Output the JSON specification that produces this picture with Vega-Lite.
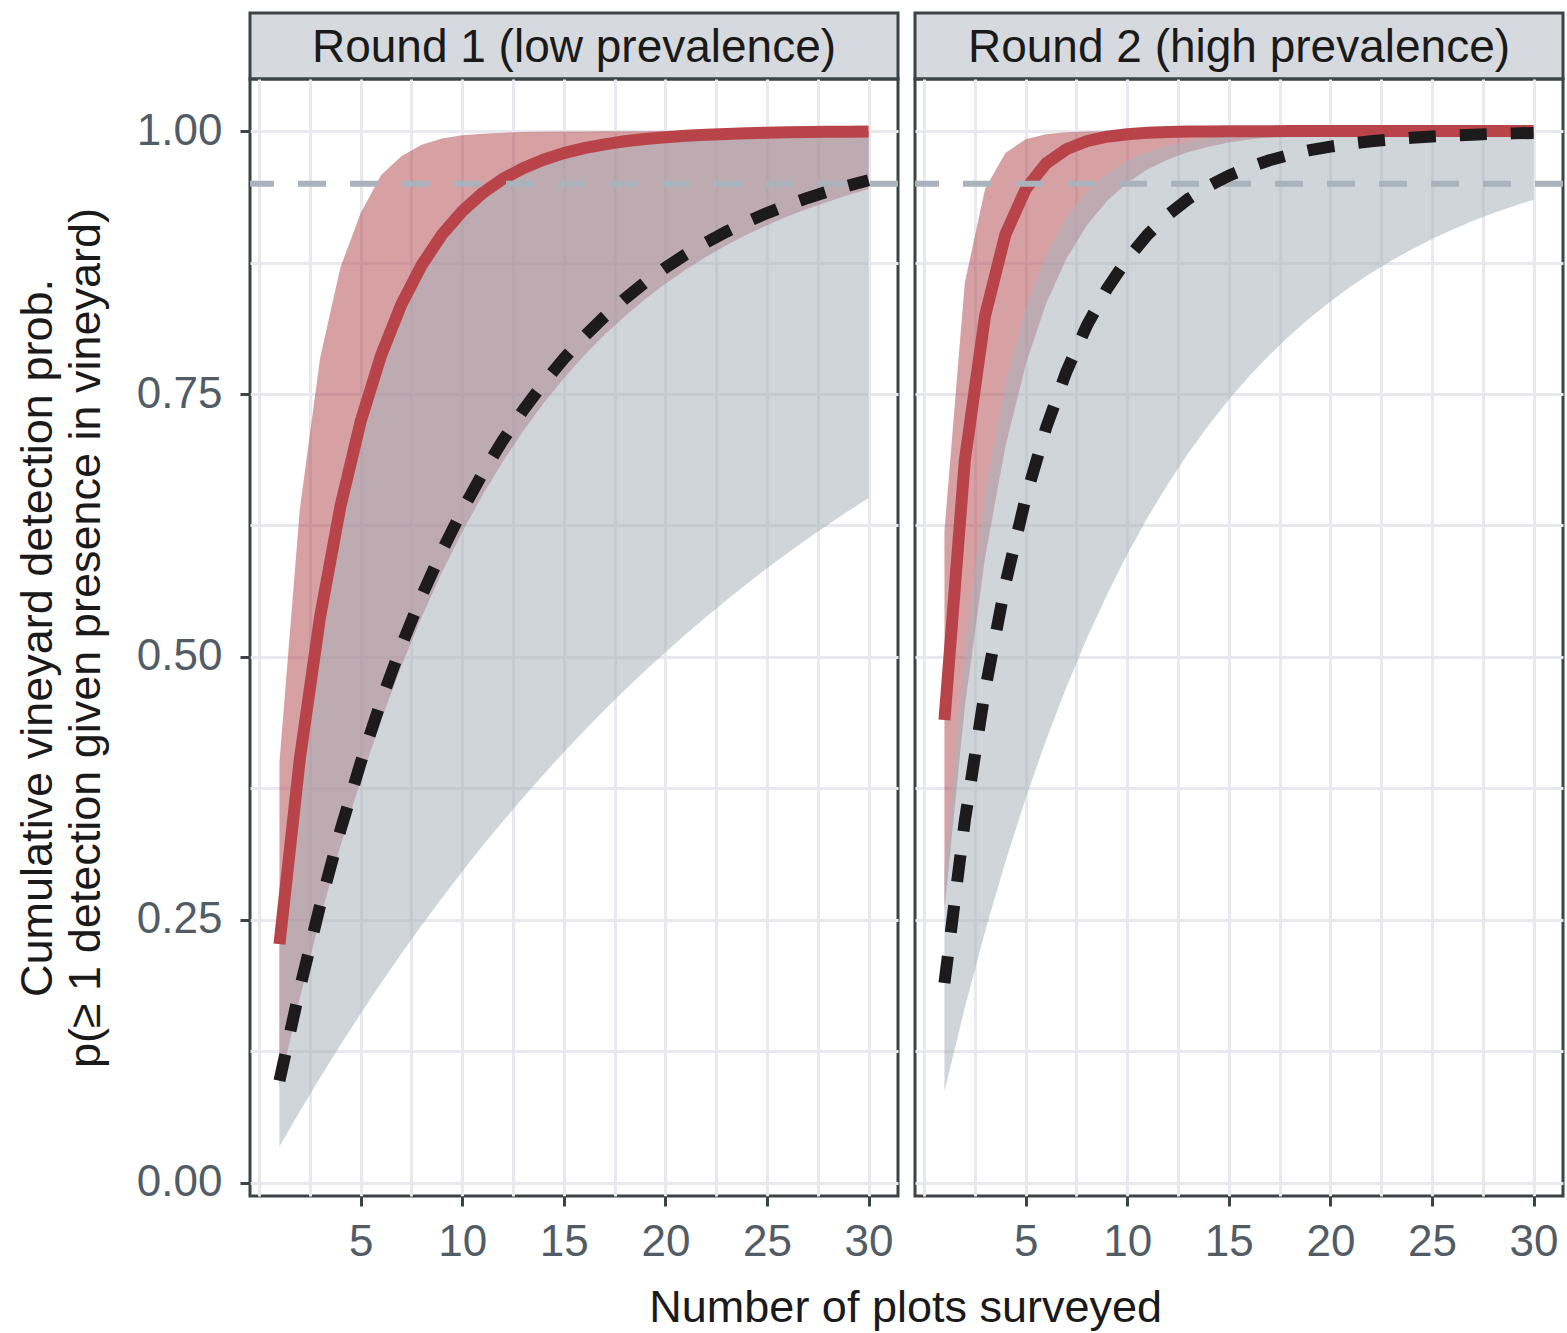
{
  "$schema": "https://vega.github.io/schema/vega-lite/v6.json",
  "padding": {"left": 13, "top": 11, "right": 0, "bottom": 0},
  "background": "white",
  "config": {
    "font": "Liberation Sans",
    "view": {"stroke": "#3b4345", "strokeWidth": 3},
    "axis": {
      "domain": false,
      "gridColor": "#e8e8ee",
      "gridWidth": 3,
      "tickColor": "#3b4345",
      "tickWidth": 3,
      "tickSize": 10,
      "labelFont": "Liberation Sans",
      "labelFontSize": 44,
      "labelColor": "#525c66",
      "labelOverlap": false,
      "labelFlush": false,
      "titleFont": "Liberation Sans",
      "titleFontSize": 45,
      "titleFontWeight": "normal",
      "titleColor": "#1a1a1a",
      "titleLineHeight": 48
    },
    "title": {"font": "Liberation Sans", "fontSize": 45, "fontWeight": "normal", "color": "#1a1a1a"}
  },
  "title": {"text": "Number of plots surveyed", "orient": "bottom", "anchor": "middle", "baseline": "top", "offset": 20, "dx": 115},
  "datasets": {
    "round1": [
      {"n": 1, "red_mean": 0.227, "red_lo": 0.092, "red_hi": 0.4, "grey_mean": 0.097, "grey_lo": 0.0345, "grey_hi": 0.227},
      {"n": 2, "red_mean": 0.4025, "red_lo": 0.1755, "red_hi": 0.64, "grey_mean": 0.1846, "grey_lo": 0.0678, "grey_hi": 0.4025},
      {"n": 3, "red_mean": 0.5381, "red_lo": 0.2514, "red_hi": 0.784, "grey_mean": 0.2637, "grey_lo": 0.1, "grey_hi": 0.5381},
      {"n": 4, "red_mean": 0.643, "red_lo": 0.3203, "red_hi": 0.8704, "grey_mean": 0.3351, "grey_lo": 0.131, "grey_hi": 0.643},
      {"n": 5, "red_mean": 0.724, "red_lo": 0.3828, "red_hi": 0.9222, "grey_mean": 0.3996, "grey_lo": 0.161, "grey_hi": 0.724},
      {"n": 6, "red_mean": 0.7867, "red_lo": 0.4396, "red_hi": 0.958, "grey_mean": 0.4578, "grey_lo": 0.1899, "grey_hi": 0.7867},
      {"n": 7, "red_mean": 0.8351, "red_lo": 0.4911, "red_hi": 0.976, "grey_mean": 0.5104, "grey_lo": 0.2179, "grey_hi": 0.8351},
      {"n": 8, "red_mean": 0.8725, "red_lo": 0.538, "red_hi": 0.987, "grey_mean": 0.5579, "grey_lo": 0.2449, "grey_hi": 0.8725},
      {"n": 9, "red_mean": 0.9015, "red_lo": 0.5805, "red_hi": 0.993, "grey_mean": 0.6008, "grey_lo": 0.2709, "grey_hi": 0.9015},
      {"n": 10, "red_mean": 0.9238, "red_lo": 0.6191, "red_hi": 0.996, "grey_mean": 0.6395, "grey_lo": 0.2961, "grey_hi": 0.9238},
      {"n": 11, "red_mean": 0.9411, "red_lo": 0.6541, "red_hi": 0.9975, "grey_mean": 0.6745, "grey_lo": 0.3204, "grey_hi": 0.9411},
      {"n": 12, "red_mean": 0.9545, "red_lo": 0.6859, "red_hi": 0.9984, "grey_mean": 0.7061, "grey_lo": 0.3438, "grey_hi": 0.9545},
      {"n": 13, "red_mean": 0.9648, "red_lo": 0.7148, "red_hi": 0.999, "grey_mean": 0.7346, "grey_lo": 0.3664, "grey_hi": 0.9648},
      {"n": 14, "red_mean": 0.9728, "red_lo": 0.7411, "red_hi": 0.9993, "grey_mean": 0.7603, "grey_lo": 0.3883, "grey_hi": 0.9728},
      {"n": 15, "red_mean": 0.979, "red_lo": 0.7649, "red_hi": 0.9995, "grey_mean": 0.7836, "grey_lo": 0.4094, "grey_hi": 0.979},
      {"n": 16, "red_mean": 0.9837, "red_lo": 0.7865, "red_hi": 0.9997, "grey_mean": 0.8046, "grey_lo": 0.4298, "grey_hi": 0.9837},
      {"n": 17, "red_mean": 0.9874, "red_lo": 0.8062, "red_hi": 0.9998, "grey_mean": 0.8235, "grey_lo": 0.4495, "grey_hi": 0.9874},
      {"n": 18, "red_mean": 0.9903, "red_lo": 0.824, "red_hi": 0.9999, "grey_mean": 0.8406, "grey_lo": 0.4685, "grey_hi": 0.9903},
      {"n": 19, "red_mean": 0.9925, "red_lo": 0.8402, "red_hi": 0.9999, "grey_mean": 0.8561, "grey_lo": 0.4868, "grey_hi": 0.9925},
      {"n": 20, "red_mean": 0.9942, "red_lo": 0.8549, "red_hi": 1.0, "grey_mean": 0.8701, "grey_lo": 0.5045, "grey_hi": 0.9942},
      {"n": 21, "red_mean": 0.9955, "red_lo": 0.8682, "red_hi": 1.0, "grey_mean": 0.8827, "grey_lo": 0.5216, "grey_hi": 0.9955},
      {"n": 22, "red_mean": 0.9965, "red_lo": 0.8804, "red_hi": 1.0, "grey_mean": 0.894, "grey_lo": 0.5381, "grey_hi": 0.9965},
      {"n": 23, "red_mean": 0.9973, "red_lo": 0.8914, "red_hi": 1.0, "grey_mean": 0.9043, "grey_lo": 0.554, "grey_hi": 0.9973},
      {"n": 24, "red_mean": 0.9979, "red_lo": 0.9014, "red_hi": 1.0, "grey_mean": 0.9136, "grey_lo": 0.5694, "grey_hi": 0.9979},
      {"n": 25, "red_mean": 0.9984, "red_lo": 0.9104, "red_hi": 1.0, "grey_mean": 0.922, "grey_lo": 0.5843, "grey_hi": 0.9984},
      {"n": 26, "red_mean": 0.9988, "red_lo": 0.9187, "red_hi": 1.0, "grey_mean": 0.9296, "grey_lo": 0.5986, "grey_hi": 0.9988},
      {"n": 27, "red_mean": 0.999, "red_lo": 0.9262, "red_hi": 1.0, "grey_mean": 0.9364, "grey_lo": 0.6125, "grey_hi": 0.999},
      {"n": 28, "red_mean": 0.9993, "red_lo": 0.9329, "red_hi": 1.0, "grey_mean": 0.9426, "grey_lo": 0.6258, "grey_hi": 0.9993},
      {"n": 29, "red_mean": 0.9994, "red_lo": 0.9391, "red_hi": 1.0, "grey_mean": 0.9481, "grey_lo": 0.6387, "grey_hi": 0.9994},
      {"n": 30, "red_mean": 0.9996, "red_lo": 0.9447, "red_hi": 1.0, "grey_mean": 0.9532, "grey_lo": 0.6512, "grey_hi": 0.9996}
    ],
    "round2": [
      {"n": 1, "red_mean": 0.44, "red_lo": 0.26, "red_hi": 0.62, "grey_mean": 0.19, "grey_lo": 0.087, "grey_hi": 0.3},
      {"n": 2, "red_mean": 0.6864, "red_lo": 0.4524, "red_hi": 0.8556, "grey_mean": 0.3439, "grey_lo": 0.1664, "grey_hi": 0.51},
      {"n": 3, "red_mean": 0.8244, "red_lo": 0.5948, "red_hi": 0.9451, "grey_mean": 0.4686, "grey_lo": 0.239, "grey_hi": 0.657},
      {"n": 4, "red_mean": 0.9017, "red_lo": 0.7001, "red_hi": 0.9792, "grey_mean": 0.5695, "grey_lo": 0.3052, "grey_hi": 0.7599},
      {"n": 5, "red_mean": 0.9449, "red_lo": 0.7781, "red_hi": 0.9921, "grey_mean": 0.6513, "grey_lo": 0.3656, "grey_hi": 0.8319},
      {"n": 6, "red_mean": 0.9692, "red_lo": 0.8358, "red_hi": 0.997, "grey_mean": 0.7176, "grey_lo": 0.4208, "grey_hi": 0.8824},
      {"n": 7, "red_mean": 0.9827, "red_lo": 0.8785, "red_hi": 0.9989, "grey_mean": 0.7712, "grey_lo": 0.4712, "grey_hi": 0.9176},
      {"n": 8, "red_mean": 0.9903, "red_lo": 0.9101, "red_hi": 0.9996, "grey_mean": 0.8147, "grey_lo": 0.5172, "grey_hi": 0.9424},
      {"n": 9, "red_mean": 0.9946, "red_lo": 0.9335, "red_hi": 0.9998, "grey_mean": 0.8499, "grey_lo": 0.5592, "grey_hi": 0.9596},
      {"n": 10, "red_mean": 0.997, "red_lo": 0.9508, "red_hi": 0.9999, "grey_mean": 0.8784, "grey_lo": 0.5976, "grey_hi": 0.9718},
      {"n": 11, "red_mean": 0.9983, "red_lo": 0.9636, "red_hi": 1.0, "grey_mean": 0.9015, "grey_lo": 0.6326, "grey_hi": 0.9802},
      {"n": 12, "red_mean": 0.999, "red_lo": 0.973, "red_hi": 1.0, "grey_mean": 0.9202, "grey_lo": 0.6645, "grey_hi": 0.9862},
      {"n": 13, "red_mean": 0.9995, "red_lo": 0.98, "red_hi": 1.0, "grey_mean": 0.9354, "grey_lo": 0.6937, "grey_hi": 0.9903},
      {"n": 14, "red_mean": 0.9997, "red_lo": 0.9852, "red_hi": 1.0, "grey_mean": 0.9477, "grey_lo": 0.7204, "grey_hi": 0.9932},
      {"n": 15, "red_mean": 0.9998, "red_lo": 0.9891, "red_hi": 1.0, "grey_mean": 0.9576, "grey_lo": 0.7447, "grey_hi": 0.9953},
      {"n": 16, "red_mean": 0.9999, "red_lo": 0.9919, "red_hi": 1.0, "grey_mean": 0.9657, "grey_lo": 0.7669, "grey_hi": 0.9967},
      {"n": 17, "red_mean": 0.9999, "red_lo": 0.994, "red_hi": 1.0, "grey_mean": 0.9722, "grey_lo": 0.7872, "grey_hi": 0.9977},
      {"n": 18, "red_mean": 1.0, "red_lo": 0.9956, "red_hi": 1.0, "grey_mean": 0.9775, "grey_lo": 0.8057, "grey_hi": 0.9984},
      {"n": 19, "red_mean": 1.0, "red_lo": 0.9967, "red_hi": 1.0, "grey_mean": 0.9818, "grey_lo": 0.8226, "grey_hi": 0.9989},
      {"n": 20, "red_mean": 1.0, "red_lo": 0.9976, "red_hi": 1.0, "grey_mean": 0.9852, "grey_lo": 0.838, "grey_hi": 0.9992},
      {"n": 21, "red_mean": 1.0, "red_lo": 0.9982, "red_hi": 1.0, "grey_mean": 0.988, "grey_lo": 0.8521, "grey_hi": 0.9994},
      {"n": 22, "red_mean": 1.0, "red_lo": 0.9987, "red_hi": 1.0, "grey_mean": 0.9903, "grey_lo": 0.865, "grey_hi": 0.9996},
      {"n": 23, "red_mean": 1.0, "red_lo": 0.999, "red_hi": 1.0, "grey_mean": 0.9921, "grey_lo": 0.8767, "grey_hi": 0.9997},
      {"n": 24, "red_mean": 1.0, "red_lo": 0.9993, "red_hi": 1.0, "grey_mean": 0.9936, "grey_lo": 0.8875, "grey_hi": 0.9998},
      {"n": 25, "red_mean": 1.0, "red_lo": 0.9995, "red_hi": 1.0, "grey_mean": 0.9948, "grey_lo": 0.8973, "grey_hi": 0.9999},
      {"n": 26, "red_mean": 1.0, "red_lo": 0.9996, "red_hi": 1.0, "grey_mean": 0.9958, "grey_lo": 0.9062, "grey_hi": 0.9999},
      {"n": 27, "red_mean": 1.0, "red_lo": 0.9997, "red_hi": 1.0, "grey_mean": 0.9966, "grey_lo": 0.9144, "grey_hi": 1.0},
      {"n": 28, "red_mean": 1.0, "red_lo": 0.9998, "red_hi": 1.0, "grey_mean": 0.9973, "grey_lo": 0.9218, "grey_hi": 1.0},
      {"n": 29, "red_mean": 1.0, "red_lo": 0.9998, "red_hi": 1.0, "grey_mean": 0.9978, "grey_lo": 0.9286, "grey_hi": 1.0},
      {"n": 30, "red_mean": 1.0, "red_lo": 0.9999, "red_hi": 1.0, "grey_mean": 0.9982, "grey_lo": 0.9348, "grey_hi": 1.0}
    ]
  },
  "spacing": 7,
  "hconcat": [
    {
      "bounds": "flush",
      "spacing": 0,
      "vconcat": [
        {
          "width": 648, "height": 66,
          "view": {"fill": "#d6dadf", "stroke": "#3b4345", "strokeWidth": 3},
          "data": {"values": [{"label": "Round 1 (low prevalence)"}]},
          "mark": {"type": "text", "fontSize": 46, "color": "#1a1a1a", "baseline": "middle", "align": "center", "dy": 2, "font": "Liberation Sans"},
          "encoding": {"text": {"field": "label"}}
        },
        {
          "width": 648, "height": 1117,
          "data": {"name": "round1"},
          "layer": [
            {
              "mark": {"type": "area", "color": "#b0434a", "opacity": 0.5},
              "encoding": {
                "x": {"field": "n", "type": "quantitative", "scale": {"domain": [-0.45, 31.45], "nice": false, "zero": false},
                  "axis": {"title": null, "values": [0, 2.5, 5, 7.5, 10, 12.5, 15, 17.5, 20, 22.5, 25, 27.5, 30], "labelPadding": 14,
                    "labelExpr": "datum.value % 5 === 0 && datum.value > 0 ? datum.label : ''",
                    "tickOpacity": {"condition": {"test": "datum.value % 5 === 0 && datum.value > 0", "value": 1}, "value": 0}}},
                "y": {"field": "red_lo", "type": "quantitative", "scale": {"domain": [-0.0125, 1.0495], "nice": false, "zero": false},
                  "axis": {"title": ["Cumulative vineyard detection prob.", "p(≥ 1 detection given presence in vineyard)"], "titlePadding": 28, "labelPadding": 18, "format": ".2f",
                    "values": [0, 0.125, 0.25, 0.375, 0.5, 0.625, 0.75, 0.875, 1],
                    "labelExpr": "(datum.value * 8) % 2 === 0 ? datum.label : ''",
                    "tickOpacity": {"condition": {"test": "(datum.value * 8) % 2 === 0", "value": 1}, "value": 0}}},
                "y2": {"field": "red_hi"}
              }
            },
            {
              "mark": {"type": "area", "color": "#aab3bc", "opacity": 0.55},
              "encoding": {
                "x": {"field": "n", "type": "quantitative"},
                "y": {"field": "grey_lo", "type": "quantitative"},
                "y2": {"field": "grey_hi"}
              }
            },
            {
              "mark": {"type": "line", "color": "#b8444a", "strokeWidth": 12, "strokeCap": "butt"},
              "encoding": {
                "x": {"field": "n", "type": "quantitative"},
                "y": {"field": "red_mean", "type": "quantitative"}
              }
            },
            {
              "data": {"values": [{"ref": "target"}]},
              "mark": {"type": "rule", "color": "#aab3bc", "strokeWidth": 6, "strokeDash": [28, 24]},
              "encoding": {"y": {"datum": 0.95}}
            },
            {
              "mark": {"type": "line", "color": "#1c1a1b", "strokeWidth": 12, "strokeCap": "butt", "strokeDash": [27, 24]},
              "encoding": {
                "x": {"field": "n", "type": "quantitative"},
                "y": {"field": "grey_mean", "type": "quantitative"}
              }
            }
          ]
        }
      ]
    },
    {
      "bounds": "flush",
      "spacing": 0,
      "vconcat": [
        {
          "width": 648, "height": 66,
          "view": {"fill": "#d6dadf", "stroke": "#3b4345", "strokeWidth": 3},
          "data": {"values": [{"label": "Round 2 (high prevalence)"}]},
          "mark": {"type": "text", "fontSize": 46, "color": "#1a1a1a", "baseline": "middle", "align": "center", "dy": 2, "font": "Liberation Sans"},
          "encoding": {"text": {"field": "label"}}
        },
        {
          "width": 648, "height": 1117,
          "data": {"name": "round2"},
          "layer": [
            {
              "mark": {"type": "area", "color": "#b0434a", "opacity": 0.5},
              "encoding": {
                "x": {"field": "n", "type": "quantitative", "scale": {"domain": [-0.45, 31.45], "nice": false, "zero": false},
                  "axis": {"title": null, "values": [0, 2.5, 5, 7.5, 10, 12.5, 15, 17.5, 20, 22.5, 25, 27.5, 30], "labelPadding": 14,
                    "labelExpr": "datum.value % 5 === 0 && datum.value > 0 ? datum.label : ''",
                    "tickOpacity": {"condition": {"test": "datum.value % 5 === 0 && datum.value > 0", "value": 1}, "value": 0}}},
                "y": {"field": "red_lo", "type": "quantitative", "scale": {"domain": [-0.0125, 1.0495], "nice": false, "zero": false},
                  "axis": {"title": null, "labels": false, "ticks": false, "values": [0, 0.125, 0.25, 0.375, 0.5, 0.625, 0.75, 0.875, 1]}},
                "y2": {"field": "red_hi"}
              }
            },
            {
              "mark": {"type": "area", "color": "#aab3bc", "opacity": 0.55},
              "encoding": {
                "x": {"field": "n", "type": "quantitative"},
                "y": {"field": "grey_lo", "type": "quantitative"},
                "y2": {"field": "grey_hi"}
              }
            },
            {
              "mark": {"type": "line", "color": "#b8444a", "strokeWidth": 12, "strokeCap": "butt"},
              "encoding": {
                "x": {"field": "n", "type": "quantitative"},
                "y": {"field": "red_mean", "type": "quantitative"}
              }
            },
            {
              "data": {"values": [{"ref": "target"}]},
              "mark": {"type": "rule", "color": "#aab3bc", "strokeWidth": 6, "strokeDash": [28, 24]},
              "encoding": {"y": {"datum": 0.95}}
            },
            {
              "mark": {"type": "line", "color": "#1c1a1b", "strokeWidth": 12, "strokeCap": "butt", "strokeDash": [27, 24]},
              "encoding": {
                "x": {"field": "n", "type": "quantitative"},
                "y": {"field": "grey_mean", "type": "quantitative"}
              }
            }
          ]
        }
      ]
    }
  ]
}
